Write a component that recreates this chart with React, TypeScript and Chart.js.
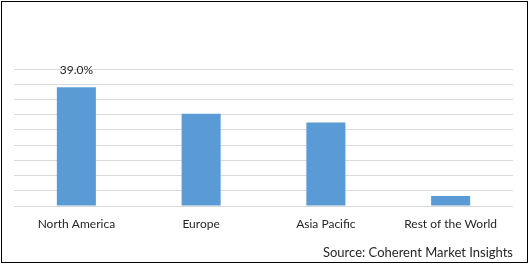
import React, { useEffect, useRef } from "react";
import { Chart, registerables } from "chart.js";

Chart.register(...registerables);

const categories = ["North America", "Europe", "Asia Pacific", "Rest of the World"];
const shareValues = [39.0, 30.3, 27.4, 3.3];
const labelledIndex = [0];
const sourceText = "Source: Coherent Market Insights";

const FONT = "Lato, 'Open Sans', sans-serif";

const valueLabelPlugin = {
  id: "valueLabel",
  afterDatasetsDraw(chart: any) {
    const { ctx } = chart;
    const meta = chart.getDatasetMeta(0);
    ctx.save();
    ctx.font = `12px ${FONT}`;
    ctx.fillStyle = "#262626";
    ctx.textAlign = "center";
    ctx.textBaseline = "middle";
    labelledIndex.forEach((i) => {
      const el = meta.data[i];
      if (!el) return;
      ctx.fillText(shareValues[i].toFixed(1) + "%", el.x, el.y - 17);
    });
    ctx.restore();
  },
};

export default function App() {
  const ref = useRef<HTMLCanvasElement>(null);
  useEffect(() => {
    document.body.style.margin = "0";
    const chart = new Chart(ref.current!, {
      type: "bar",
      data: {
        labels: categories,
        datasets: [
          {
            data: shareValues,
            backgroundColor: "#5B9BD5",
            categoryPercentage: 1,
            barPercentage: 0.313,
          },
        ],
      },
      options: {
        animation: false,
        responsive: false,
        maintainAspectRatio: false,
        layout: { padding: { left: 14, right: 17, top: 69, bottom: 0 } },
        plugins: {
          legend: { display: false },
          tooltip: { enabled: false },
          title: {
            display: true,
            text: sourceText,
            position: "bottom",
            align: "end",
            color: "#262626",
            font: { family: FONT, size: 13, weight: "normal" },
            padding: { top: 3, bottom: 4 },
          },
        },
        scales: {
          x: {
            grid: { display: false, drawTicks: false },
            border: { display: false },
            ticks: {
              color: "#262626",
              font: { family: FONT, size: 12 },
              padding: 11,
              maxRotation: 0,
            },
          },
          y: {
            min: 0,
            max: 45,
            ticks: { display: false, stepSize: 5 },
            grid: { color: "#D9D9D9", lineWidth: 1, drawTicks: false },
            border: { display: false },
          },
        },
      },
      plugins: [valueLabelPlugin],
    });
    return () => chart.destroy();
  }, []);
  return (
    <div style={{ position: "fixed", left: 0, top: 0, width: 530, height: 265, background: "#fff" }}>
      <canvas ref={ref} width={530} height={265} style={{ display: "block" }} />
      <div
        style={{
          position: "absolute",
          left: 1,
          top: 1,
          width: 527,
          height: 262,
          border: "1px solid #000",
          boxSizing: "border-box",
          pointerEvents: "none",
        }}
      />
    </div>
  );
}
